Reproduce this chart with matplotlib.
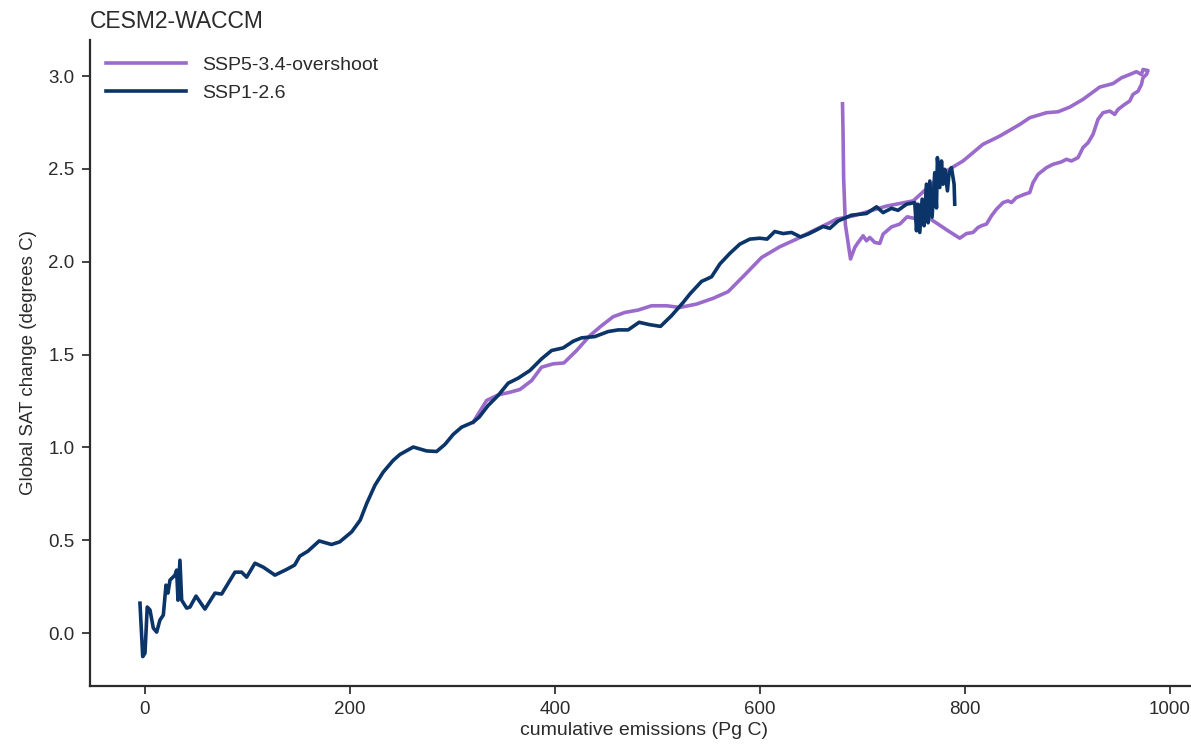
import matplotlib.pyplot as plt

# cumulative emissions (Pg C) vs global SAT change (degrees C), CESM2-WACCM
ssp126_emis = [
    -4.9, -2.2, 0.0, 2.2, 4.9, 8.1, 11.4, 14.6, 17.9, 20.5, 22.4, 24.4,
    29.3, 30.9, 32.2, 34.1, 35.8, 40.7, 43.9, 49.8, 58.5, 68.3, 74.8, 87.8,
    94.3, 99.2, 107.3, 115.4, 126.8, 138.0, 146.0, 151.0, 159.0, 170.0,
    182.0, 190.0, 201.7, 210.0, 216.3, 224.4, 232.5, 242.2, 248.8, 261.8,
    274.8, 284.6, 292.7, 300.8, 309.0, 320.3, 326.1, 334.9, 344.7, 354.4,
    364.2, 375.6, 387.0, 396.8, 408.1, 417.9, 426.0, 439.0, 452.0, 461.8,
    471.5, 482.2, 492.7, 503.1, 513.9, 525.2, 531.7, 543.1, 552.9, 561.0,
    570.7, 580.5, 590.2, 600.0, 607.1, 614.6, 622.7, 630.9, 639.7, 647.1,
    653.7, 661.8, 668.3, 676.4, 689.5, 704.1, 713.9, 720.3, 728.5, 734.9,
    743.1, 751.2, 752.9, 754.5, 756.1, 758.4, 760.3, 762.6, 764.2, 765.9,
    768.1, 770.7, 772.4, 773.3, 775.6, 777.3, 778.8, 780.5, 783.1, 784.7,
    787.0, 789.6, 790.2,
]
ssp126_sat = [
    0.161, -0.127, -0.108, 0.140, 0.124, 0.027, 0.005, 0.070, 0.097, 0.258,
    0.215, 0.285, 0.312, 0.339, 0.177, 0.392, 0.177, 0.134, 0.140, 0.199,
    0.129, 0.215, 0.210, 0.328, 0.328, 0.301, 0.376, 0.355, 0.312, 0.342,
    0.366, 0.414, 0.441, 0.496, 0.477, 0.491, 0.545, 0.608, 0.697, 0.796,
    0.867, 0.930, 0.962, 1.002, 0.981, 0.978, 1.016, 1.070, 1.109, 1.136,
    1.163, 1.226, 1.280, 1.346, 1.373, 1.414, 1.477, 1.522, 1.536, 1.572,
    1.590, 1.597, 1.624, 1.633, 1.633, 1.674, 1.661, 1.652, 1.710, 1.781,
    1.826, 1.894, 1.919, 1.988, 2.045, 2.095, 2.122, 2.127, 2.122, 2.163,
    2.152, 2.158, 2.134, 2.149, 2.167, 2.190, 2.180, 2.220, 2.251, 2.260,
    2.296, 2.265, 2.288, 2.277, 2.310, 2.319, 2.167, 2.310, 2.158, 2.337,
    2.194, 2.418, 2.210, 2.435, 2.240, 2.480, 2.290, 2.561, 2.400, 2.543,
    2.418, 2.498, 2.382, 2.480, 2.507, 2.418, 2.310,
]

ssp534_emis = [
    320.3, 333.4, 344.7, 356.1, 365.9, 377.3, 387.0, 398.3, 408.8, 421.2,
    434.1, 445.6, 456.9, 468.3, 481.3, 494.3, 509.0, 522.0, 538.2, 554.4,
    569.1, 585.4, 601.7, 619.5, 635.8, 650.4, 666.6, 674.8, 691.0, 723.6,
    749.6, 765.9, 782.1, 798.3, 817.8, 834.1, 853.7, 863.4, 879.7, 891.0,
    902.4, 915.4, 931.7, 944.7, 952.9, 961.0, 967.5, 972.4, 974.0, 978.8,
    977.3, 973.9, 972.4, 969.1, 964.2, 961.0, 956.1, 949.6, 946.3, 941.5,
    934.9, 930.0, 925.2, 920.3, 915.4, 910.5, 904.1, 899.2, 894.3, 886.1,
    879.7, 871.5, 866.6, 863.4, 858.5, 850.4, 845.6, 842.2, 837.4, 830.9,
    826.0, 821.2, 816.3, 813.0, 808.1, 801.7, 795.1, 783.7, 770.7, 762.6,
    754.4, 743.7, 736.6, 728.5, 720.3, 717.1, 712.2, 707.3, 704.1, 700.8,
    695.9, 692.7, 688.5, 683.5, 681.8, 681.2, 680.7,
]
ssp534_sat = [
    1.136, 1.253, 1.283, 1.297, 1.312, 1.360, 1.432, 1.450, 1.455, 1.522,
    1.602, 1.656, 1.704, 1.727, 1.740, 1.763, 1.763, 1.754, 1.772, 1.803,
    1.839, 1.930, 2.023, 2.081, 2.122, 2.163, 2.206, 2.230, 2.247, 2.300,
    2.328, 2.409, 2.489, 2.543, 2.633, 2.677, 2.740, 2.776, 2.803, 2.808,
    2.833, 2.875, 2.941, 2.960, 2.991, 3.009, 3.024, 3.009, 3.036, 3.030,
    3.009, 2.991, 2.955, 2.919, 2.902, 2.866, 2.848, 2.821, 2.794, 2.812,
    2.803, 2.767, 2.687, 2.641, 2.615, 2.561, 2.543, 2.552, 2.538, 2.525,
    2.507, 2.471, 2.426, 2.373, 2.364, 2.346, 2.319, 2.328, 2.319, 2.283,
    2.247, 2.203, 2.194, 2.185, 2.158, 2.152, 2.127, 2.167, 2.215, 2.242,
    2.230, 2.242, 2.203, 2.188, 2.149, 2.099, 2.104, 2.131, 2.113, 2.140,
    2.104, 2.077, 2.015, 2.200, 2.450, 2.700, 2.851,
]

purple = "#9b6bcc"
navy = "#0b3468"
text_color = "#2b2b2b"

plt.rcParams["font.family"] = ["Liberation Sans", "DejaVu Sans"]

fig = plt.figure(figsize=(11.91, 7.51), dpi=100)
ax = fig.add_axes([0.0752, 0.0866, 0.931, 0.860])

ax.plot(ssp534_emis, ssp534_sat, color=purple, lw=2.6, label="SSP5-3.4-overshoot")
ax.plot(ssp126_emis, ssp126_sat, color=navy, lw=2.6, label="SSP1-2.6")

ax.set_yticks([0.0, 0.5, 1.0, 1.5, 2.0, 2.5, 3.0])
ax.set_xticks([0, 200, 400, 600, 800, 1000])

ax.set_xlabel("cumulative emissions (Pg C)", fontsize=14, color=text_color, labelpad=3)
ax.set_ylabel("Global SAT change (degrees C)", fontsize=13.5, color=text_color, labelpad=8)
ax.set_title("CESM2-WACCM", loc="left", fontsize=16.5, color=text_color, pad=9)

ax.tick_params(direction="out", length=6, width=1.25, labelsize=13.5,
               colors=text_color, pad=5)
for side in ("top", "right"):
    ax.spines[side].set_visible(False)
for side in ("left", "bottom"):
    ax.spines[side].set_linewidth(1.6)
    ax.spines[side].set_color(text_color)

ax.legend(loc="upper left", frameon=False, fontsize=14, handlelength=4.1,
          handletextpad=0.85, borderaxespad=0.45, bbox_to_anchor=(0.0, 1.0),
          labelcolor=text_color)

fig.savefig("out.png", dpi=100)
